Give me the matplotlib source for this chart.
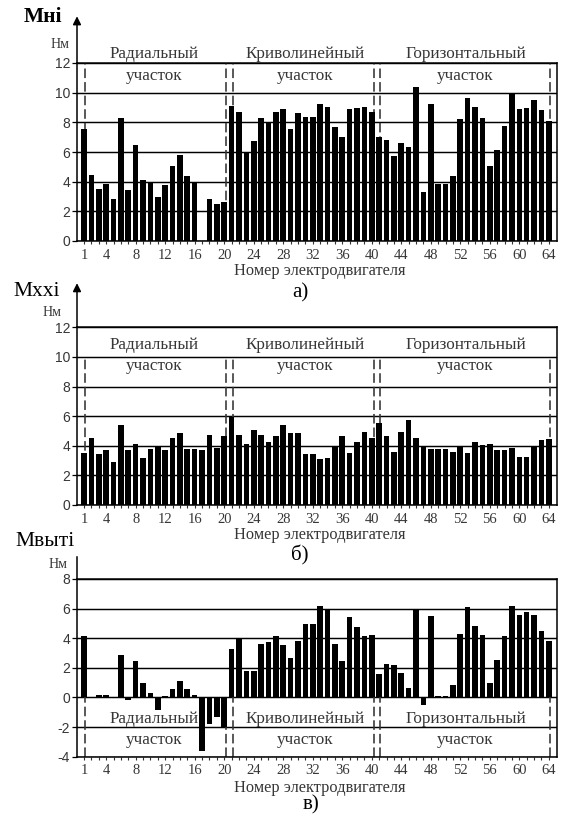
import matplotlib
matplotlib.use("Agg")
import matplotlib.pyplot as plt
import numpy as np

# ---------------- data ----------------
motors = list(range(1, 65))
xtick_vals = [1, 4, 8, 12, 16, 20, 24, 28, 32, 36, 40, 44, 48, 52, 56, 60, 64]

m_nom = [7.55, 4.46, 3.49, 3.85, 2.82, 8.29, 3.42, 6.49, 4.10, 3.99,
         3.00, 3.76, 5.05, 5.81, 4.35, 3.99, 0.00, 2.82, 2.48, 2.66,
         9.12, 8.69, 5.95, 6.76, 8.29, 8.00, 8.69, 8.90, 7.52, 8.60,
         8.36, 8.36, 9.21, 9.03, 7.70, 7.03, 8.90, 8.96, 9.03, 8.69,
         7.00, 6.82, 5.74, 6.64, 6.33, 10.40, 3.33, 9.21, 3.87, 3.87,
         4.35, 8.20, 9.62, 9.03, 8.29, 5.05, 6.15, 7.77, 9.93, 8.90,
         8.96, 9.48, 8.80, 8.10]

m_xx = [3.51, 4.55, 3.42, 3.69, 2.93, 5.38, 3.69, 4.12, 3.18, 3.76,
        3.96, 3.69, 4.55, 4.89, 3.76, 3.76, 3.69, 4.71, 3.85, 4.64,
        5.97, 4.71, 4.12, 5.05, 4.71, 4.28, 4.64, 5.38, 4.89, 4.89,
        3.45, 3.45, 3.09, 3.15, 3.99, 4.64, 3.54, 4.28, 4.95, 4.55,
        5.56, 4.64, 3.60, 4.95, 5.72, 4.55, 3.99, 3.76, 3.76, 3.76,
        3.60, 3.99, 3.54, 4.28, 4.05, 4.12, 3.69, 3.69, 3.85, 3.27,
        3.27, 3.99, 4.37, 4.46]

m_out = [4.14, 0.00, 0.20, 0.20, 0.00, 2.86, -0.20, 2.43, 0.99, 0.29,
         -0.88, 0.11, 0.54, 1.08, 0.54, 0.20, -3.60, -1.80, -1.31, -1.98,
         3.29, 4.01, 1.82, 1.76, 3.63, 3.72, 4.14, 3.54, 2.68, 3.78,
         4.98, 4.98, 6.17, 5.99, 3.63, 2.43, 5.41, 4.73, 4.14, 4.21,
         1.58, 2.27, 2.18, 1.67, 0.65, 5.99, -0.54, 5.50, 0.11, 0.11,
         0.81, 4.30, 6.08, 4.82, 4.21, 0.99, 2.52, 4.14, 6.17, 5.56,
         5.74, 5.56, 4.48, 3.78]

section_names = ["Радиальный", "Криволинейный", "Горизонтальный"]
section_word = "участок"
section_centers = [10.5, 31.0, 52.7]
section_bounds = [1.2, 20.2, 21.2, 40.3, 41.1, 64.2]

panel_values = [m_nom, m_xx, m_out]
panel_ylabels = ["Мнi", "Мxxi", "Мвыті"]
panel_letters = ["а)", "б)", "в)"]
panel_yticks = [[0, 2, 4, 6, 8, 10, 12], [0, 2, 4, 6, 8, 10, 12],
                [-4, -2, 0, 2, 4, 6, 8]]
xlabel = "Номер электродвигателя"
unit = "Нм"

# ---------------- layout ----------------
W, H = 561, 817
SERIF = "Liberation Serif"
SANS = "Liberation Sans"
TXT = "#363636"

fig = plt.figure(figsize=(W / 100, H / 100), dpi=100)

def fx(px):
    return px / W

def fy(py):
    return 1 - py / H

# (axes top px, axes bottom px)
panel_px = [(63, 241), (327.3, 505), (579, 756.7)]
ax_left, ax_right = 77, 557.3
ylims = [(0, 12), (0, 12), (-4, 8)]
dash_ranges = [(0, 12), (0, 10), (-4, 0)]
title_y = [(12.6, 11.1), (10.8, 9.4), (-1.45, -2.9)]
axis_top = [15.15, 14.98, 9.48]
arrow = [True, True, False]
ylab_px = [(43, 17), (37, 292), (45, 542)]
unit_px = [(60, 44), (52, 313), (58, 565)]
letter_px = [(300, 293), (300, 555), (311, 805)]
xlabel_py = [271, 535, 788]

for i in range(3):
    top, bot = panel_px[i]
    ax = fig.add_axes([fx(ax_left), fy(bot), fx(ax_right) - fx(ax_left), (bot - top) / H])
    vals = panel_values[i]
    ax.bar(motors, vals, width=0.76, color="black", zorder=3)
    ax.set_xlim(0.05, 65.15)
    ax.set_ylim(*ylims[i])

    # horizontal grid
    ax.set_yticks(panel_yticks[i])
    ax.set_yticklabels([str(v) for v in panel_yticks[i]], fontfamily=SANS,
                       fontsize=10, color=TXT)
    ax.yaxis.grid(True, color="black", linewidth=1.05, zorder=1)
    ax.set_axisbelow(True)

    # x ticks
    ax.set_xticks(xtick_vals)
    ax.set_xticklabels([str(v) for v in xtick_vals], fontfamily=SERIF,
                       fontsize=10.5, color=TXT)
    ax.set_xticks(motors, minor=True)
    ax.tick_params(axis="x", which="both", direction="out", length=2.5,
                   width=0.8, pad=3, color="#333333")
    ax.tick_params(axis="y", direction="out", length=3.5, width=0.9, pad=1.5)

    for s in ax.spines.values():
        s.set_linewidth(1.1)
        s.set_color("black")

    # section separators
    y0, y1 = dash_ranges[i]
    for xb in section_bounds:
        ax.plot([xb, xb], [y0, y1], color="#333333", linewidth=1.15,
                linestyle=(0, (6, 2.5)), zorder=2)

    # section titles
    for name, xc in zip(section_names, section_centers):
        ax.text(xc, title_y[i][0], name, ha="center", va="center",
                fontfamily=SERIF, fontsize=12.3, color=TXT, clip_on=False)
        ax.text(xc, title_y[i][1], section_word, ha="center", va="center",
                fontfamily=SERIF, fontsize=12.3, color=TXT, clip_on=False)

    # y-axis extension / arrow
    ymax = ylims[i][1]
    if arrow[i]:
        ax.annotate("", xy=(0, axis_top[i]), xytext=(0, ymax),
                    xycoords=("axes fraction", "data"),
                    textcoords=("axes fraction", "data"),
                    arrowprops=dict(arrowstyle="-|>", color="black", lw=1.1,
                                    mutation_scale=12, shrinkA=0, shrinkB=0),
                    annotation_clip=False)
    else:
        ax.plot([0, 0], [ymax, axis_top[i]], color="black", linewidth=1.1,
                transform=ax.get_yaxis_transform(), clip_on=False)

    # labels
    fig.text(fx(ylab_px[i][0]), fy(ylab_px[i][1]), panel_ylabels[i],
             ha="center", va="center", fontfamily=SERIF, fontsize=15.5,
             fontweight="bold" if i == 0 else "normal", color="black")
    fig.text(fx(unit_px[i][0]), fy(unit_px[i][1]), unit, ha="center",
             va="center", fontfamily=SERIF, fontsize=10, color=TXT)
    fig.text(fx((ax_left + ax_right) / 2 + 3), fy(xlabel_py[i]), xlabel,
             ha="center", va="center", fontfamily=SERIF, fontsize=11.8,
             color=TXT)
    fig.text(fx(letter_px[i][0]), fy(letter_px[i][1]), panel_letters[i],
             ha="center", va="center", fontfamily=SERIF, fontsize=15,
             color="black")

fig.savefig("out.png", dpi=100)
